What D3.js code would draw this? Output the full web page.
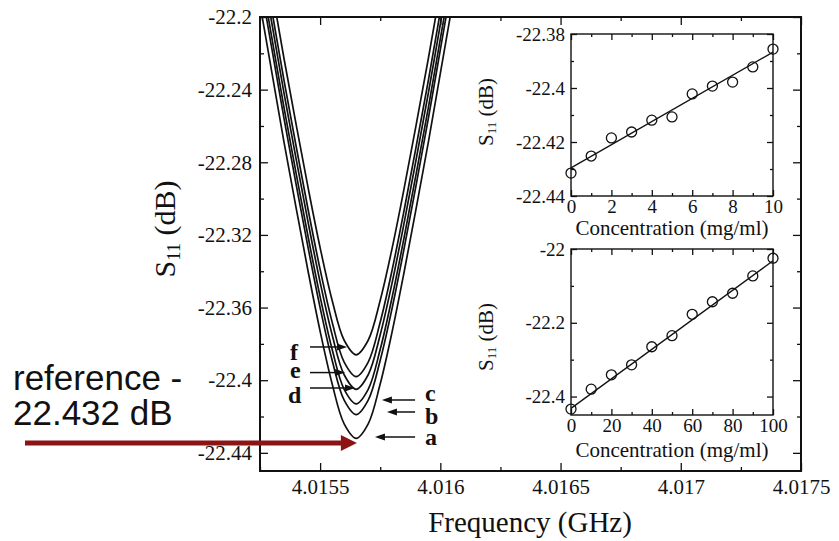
<!DOCTYPE html>
<html lang="en">
<head>
  <meta charset="UTF-8" />
  <title>S11 vs Frequency</title>
  <script src="https://d3js.org/d3.v7.min.js"></script>
  <style>
    body { margin: 0; background: #fff; }
    svg { display: block; }
    .serif { font-family: "Liberation Serif", "Times New Roman", serif; fill: #111; }
  </style>
</head>
<body>
  <svg id="chart" width="839" height="541"></svg>

  <script>
    // --- main plot: S11 dips, samples a-f ---
    const freqs = [4.01525, 4.0153, 4.01535, 4.0154, 4.01545, 4.0155, 4.01555, 4.0156, 4.01565,
                   4.0157, 4.01575, 4.0158, 4.01585, 4.0159, 4.01595, 4.016, 4.01605, 4.0161];
    const curveA = [-22.193, -22.231, -22.269, -22.305, -22.340, -22.373, -22.402, -22.424, -22.432,
                    -22.424, -22.402, -22.373, -22.340, -22.305, -22.269, -22.231, -22.193, -22.155];
    const curveB = [-22.180, -22.218, -22.256, -22.292, -22.327, -22.360, -22.389, -22.411, -22.419,
                    -22.411, -22.389, -22.360, -22.327, -22.292, -22.256, -22.218, -22.180, -22.142];
    const curveC = [-22.174, -22.212, -22.250, -22.286, -22.321, -22.354, -22.383, -22.405, -22.413,
                    -22.405, -22.383, -22.354, -22.321, -22.286, -22.250, -22.212, -22.174, -22.136];
    const curveD = [-22.166, -22.204, -22.242, -22.278, -22.313, -22.346, -22.375, -22.397, -22.405,
                    -22.397, -22.375, -22.346, -22.313, -22.278, -22.242, -22.204, -22.166, -22.128];
    const curveE = [-22.159, -22.197, -22.235, -22.271, -22.306, -22.339, -22.368, -22.390, -22.398,
                    -22.390, -22.368, -22.339, -22.306, -22.271, -22.235, -22.197, -22.159, -22.121];
    const curveF = [-22.147, -22.185, -22.223, -22.259, -22.294, -22.327, -22.356, -22.378, -22.386,
                    -22.378, -22.356, -22.327, -22.294, -22.259, -22.223, -22.185, -22.147, -22.109];

    const xMajor = [4.0155, 4.016, 4.0165, 4.017, 4.0175];
    const xMajorLabels = ["4.0155", "4.016", "4.0165", "4.017", "4.0175"];
    const xMinor = [4.01525, 4.01575, 4.01625, 4.01675, 4.01725];
    const yMajor = [-22.44, -22.4, -22.36, -22.32, -22.28, -22.24, -22.2];
    const yMajorLabels = ["-22.44", "-22.4", "-22.36", "-22.32", "-22.28", "-22.24", "-22.2"];
    const yMinor = [-22.42, -22.38, -22.34, -22.3, -22.26, -22.22];

    // arrows pointing at the curves (frequency / dB)
    const arrowLabels = ["f", "e", "d", "c", "b", "a"];
    const arrowLevel  = [-22.3817, -22.3958, -22.4043, -22.4109, -22.4175, -22.4313];
    const arrowTail   = [4.015458, 4.015458, 4.015458, 4.015895, 4.015895, 4.015895];
    const arrowTip    = [4.015612, 4.015604, 4.015645, 4.015757, 4.015778, 4.015728];
    const labelFreq   = [4.015375, 4.015375, 4.015366, 4.015936, 4.015936, 4.015936];
    const labelLevel  = [-22.3889, -22.3988, -22.4126, -22.4115, -22.4241, -22.4357];

    const refFreq = 4.015653;
    const refLevel = -22.4346;

    // --- inset 1: 0-10 mg/ml ---
    const conc1 = [0, 1, 2, 3, 4, 5, 6, 7, 8, 9, 10];
    const s11Low = [-22.4315, -22.4252, -22.4185, -22.4163, -22.4119, -22.4107,
                    -22.4022, -22.3993, -22.3978, -22.3922, -22.3856];
    const fitLow = [[0, -22.4296], [10, -22.3867]];

    // --- inset 2: 0-100 mg/ml ---
    const conc2 = [0, 10, 20, 30, 40, 50, 60, 70, 80, 90, 100];
    const s11High = [-22.434, -22.380, -22.341, -22.314, -22.265, -22.235,
                     -22.177, -22.143, -22.120, -22.073, -22.025];
    const fitHigh = [[0, -22.432], [100, -22.032]];

    const SERIF = "Liberation Serif, Times New Roman, serif";
    const svg = d3.select("#chart");
    svg.append("rect").attr("width", 839).attr("height", 541).attr("fill", "#fff");

    // draws inward ticks on all four sides plus the frame
    function frame(g, x, y, o) {
      const [x0, x1] = x.range();
      const [y0, y1] = y.range(); // y0 bottom
      const L = o.major, l = o.minor;

      g.append("g").attr("transform", `translate(0,${y0})`)
        .call(d3.axisBottom(x).tickValues(o.xMajor).tickSize(-L).tickSizeOuter(0)
          .tickPadding(o.xPad).tickFormat((d, i) => o.xLabels[i]));
      g.append("g").attr("transform", `translate(0,${y0})`)
        .call(d3.axisBottom(x).tickValues(o.xMinor).tickSize(-l).tickSizeOuter(0).tickFormat(""));
      g.append("g").attr("transform", `translate(0,${y1})`)
        .call(d3.axisTop(x).tickValues(o.xMajor).tickSize(-L).tickSizeOuter(0).tickFormat(""));
      g.append("g").attr("transform", `translate(0,${y1})`)
        .call(d3.axisTop(x).tickValues(o.xMinor).tickSize(-l).tickSizeOuter(0).tickFormat(""));

      g.append("g").attr("transform", `translate(${x0},0)`)
        .call(d3.axisLeft(y).tickValues(o.yMajor).tickSize(-L).tickSizeOuter(0)
          .tickPadding(o.yPad).tickFormat((d, i) => o.yLabels[i]));
      g.append("g").attr("transform", `translate(${x0},0)`)
        .call(d3.axisLeft(y).tickValues(o.yMinor).tickSize(-l).tickSizeOuter(0).tickFormat(""));
      g.append("g").attr("transform", `translate(${x1},0)`)
        .call(d3.axisRight(y).tickValues(o.yMajor).tickSize(-L).tickSizeOuter(0).tickFormat(""));
      g.append("g").attr("transform", `translate(${x1},0)`)
        .call(d3.axisRight(y).tickValues(o.yMinor).tickSize(-l).tickSizeOuter(0).tickFormat(""));

      g.selectAll(".domain").remove();
      g.selectAll(".tick line").attr("stroke", "#111").attr("stroke-width", 1.3);
      g.selectAll("g").attr("font-family", SERIF).attr("font-size", o.fontSize);
      g.selectAll(".tick text").attr("class", "serif");

      g.append("rect")
        .attr("x", x0).attr("y", y1)
        .attr("width", x1 - x0).attr("height", y0 - y1)
        .attr("fill", "none").attr("stroke", "#111").attr("stroke-width", o.stroke);
    }

    // S11 text with subscript
    function s11Label(g, cx, cy, size) {
      const t = g.append("text").attr("class", "serif")
        .attr("transform", `translate(${cx},${cy}) rotate(-90)`)
        .attr("text-anchor", "middle")
        .attr("dominant-baseline", "middle")
        .style("font-size", size + "px");
      t.append("tspan").text("S");
      t.append("tspan").text("11").style("font-size", (size * 0.62) + "px").attr("dy", size * 0.25);
      t.append("tspan").text(" (dB)").attr("dy", -size * 0.25);
    }

    // --- main chart ---
    const x = d3.scaleLinear().domain([4.01525, 4.0175]).range([260, 801]);
    const y = d3.scaleLinear().domain([-22.45, -22.2]).range([471, 17]);
    const main = svg.append("g");

    svg.append("defs").append("clipPath").attr("id", "plot-clip")
      .append("rect").attr("x", 260).attr("y", 17).attr("width", 541).attr("height", 454);

    const line = d3.line()
      .x(d => x(d[0]))
      .y(d => y(d[1]))
      .curve(d3.curveCatmullRom.alpha(0.5));

    const curves = [curveA, curveB, curveC, curveD, curveE, curveF];
    main.append("g").attr("clip-path", "url(#plot-clip)")
      .selectAll("path")
      .data(curves)
      .enter()
      .append("path")
      .attr("d", vals => line(vals.map((v, i) => [freqs[i], v])))
      .attr("fill", "none")
      .attr("stroke", "#111")
      .attr("stroke-width", 1.7);

    frame(main, x, y, {
      xMajor, xMinor, xLabels: xMajorLabels,
      yMajor, yMinor, yLabels: yMajorLabels,
      major: 8, minor: 4, xPad: 8, yPad: 8, stroke: 2, fontSize: 21
    });

    // small black arrows with letters
    arrowLabels.forEach((lab, i) => {
      const yy = y(arrowLevel[i]);
      const xt = x(arrowTail[i]);
      const xh = x(arrowTip[i]);
      const dir = Math.sign(xh - xt);
      main.append("line")
        .attr("x1", xt).attr("x2", xh - dir * 6)
        .attr("y1", yy).attr("y2", yy)
        .attr("stroke", "#111").attr("stroke-width", 1.5);
      main.append("path")
        .attr("d", `M${xh},${yy} L${xh - dir * 10},${yy - 3.5} L${xh - dir * 10},${yy + 3.5} Z`)
        .attr("fill", "#111");
      main.append("text").attr("class", "serif")
        .attr("x", x(labelFreq[i])).attr("y", y(labelLevel[i]))
        .style("font-size", "24px")
        .style("font-weight", "bold")
        .text(lab);
    });

    // axis titles
    main.append("text").attr("class", "serif")
      .attr("x", 530).attr("y", 532)
      .attr("text-anchor", "middle")
      .style("font-size", "29px")
      .text("Frequency (GHz)");
    s11Label(main, 168, 229, 30);

    // --- insets ---
    const xi1 = d3.scaleLinear().domain([0, 10]).range([571, 773]);
    const yi1 = d3.scaleLinear().domain([-22.44, -22.38]).range([196, 34]);
    const xi2 = d3.scaleLinear().domain([0, 100]).range([571, 773]);
    const yi2 = d3.scaleLinear().domain([-22.45, -22.0]).range([415, 249]);

    const insets = [
      { xs: xi1, ys: yi1, cx: conc1, cy: s11Low, fit: fitLow,
        xMajor: [0, 2, 4, 6, 8, 10], xMinor: [1, 3, 5, 7, 9],
        yMajor: [-22.44, -22.42, -22.4, -22.38], yMinor: [-22.43, -22.41, -22.39],
        yLabels: ["-22.44", "-22.42", "-22.4", "-22.38"],
        titleY: 235, yLabelY: 112 },
      { xs: xi2, ys: yi2, cx: conc2, cy: s11High, fit: fitHigh,
        xMajor: [0, 20, 40, 60, 80, 100], xMinor: [10, 30, 50, 70, 90],
        yMajor: [-22.4, -22.2, -22.0], yMinor: [-22.3, -22.1],
        yLabels: ["-22.4", "-22.2", "-22"],
        titleY: 457, yLabelY: 337 }
    ];

    insets.forEach(s => {
      const g = svg.append("g");
      const [x0, x1] = s.xs.range();
      const [y0, y1] = s.ys.range();
      g.append("rect").attr("x", x0).attr("y", y1)
        .attr("width", x1 - x0).attr("height", y0 - y1).attr("fill", "#fff");

      g.append("path")
        .attr("d", d3.line().x(d => s.xs(d[0])).y(d => s.ys(d[1]))(s.fit))
        .attr("fill", "none").attr("stroke", "#111").attr("stroke-width", 1.3);

      g.selectAll("circle")
        .data(s.cx.map((c, i) => [c, s.cy[i]]))
        .enter()
        .append("circle")
        .attr("cx", d => s.xs(d[0]))
        .attr("cy", d => s.ys(d[1]))
        .attr("r", 5)
        .attr("fill", "none")
        .attr("stroke", "#111")
        .attr("stroke-width", 1.3);

      frame(g, s.xs, s.ys, {
        xMajor: s.xMajor, xMinor: s.xMinor, xLabels: s.xMajor.map(String),
        yMajor: s.yMajor, yMinor: s.yMinor, yLabels: s.yLabels,
        major: 6, minor: 3, xPad: 4, yPad: 6, stroke: 1.4, fontSize: 19
      });

      g.append("text").attr("class", "serif")
        .attr("x", (x0 + x1) / 2).attr("y", s.titleY)
        .attr("text-anchor", "middle")
        .style("font-size", "21px")
        .text("Concentration (mg/ml)");
      s11Label(g, 488, s.yLabelY, 21);
    });

    // --- red reference annotation ---
    const note = svg.append("g");
    const tipX = x(refFreq), tipY = y(refLevel);
    note.append("line")
      .attr("x1", 25).attr("x2", tipX - 12)
      .attr("y1", tipY).attr("y2", tipY)
      .attr("stroke", "#8c1414").attr("stroke-width", 5);
    note.append("path")
      .attr("d", `M${tipX},${tipY} L${tipX - 16},${tipY - 8} L${tipX - 16},${tipY + 8} Z`)
      .attr("fill", "#8c1414");
    note.append("text")
      .attr("x", 13).attr("y", 390)
      .attr("font-family", "Liberation Sans, Arial, sans-serif")
      .attr("font-size", 35)
      .attr("fill", "#111")
      .text("reference -");
    note.append("text")
      .attr("x", 13).attr("y", 425)
      .attr("font-family", "Liberation Sans, Arial, sans-serif")
      .attr("font-size", 35)
      .attr("fill", "#111")
      .text("22.432 dB");
  </script>
</body>
</html>
